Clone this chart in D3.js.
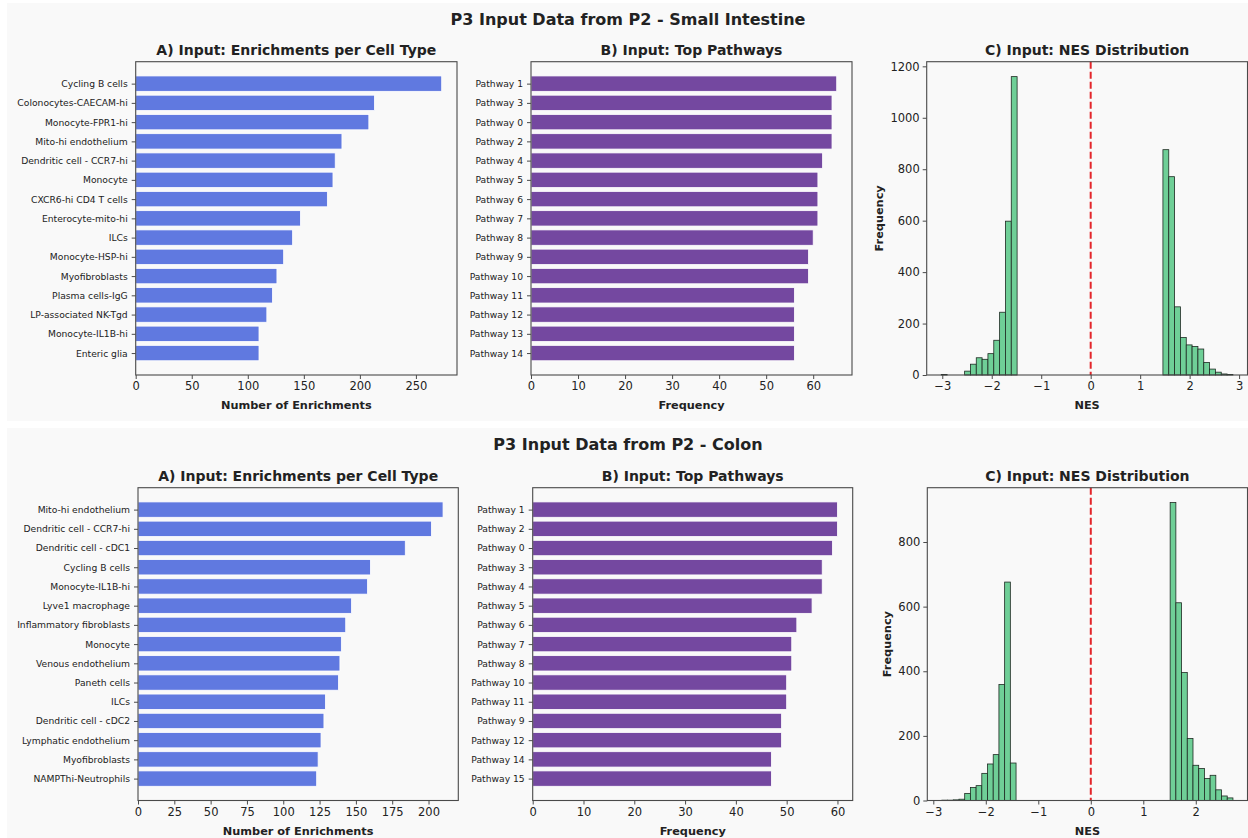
<!DOCTYPE html>
<html><head><meta charset="utf-8">
<script src="https://cdn.jsdelivr.net/npm/d3@7"></script>
<style>body{margin:0;background:#fff;} text{font-family:"DejaVu Sans",sans-serif;fill:#222;}</style>
</head><body><svg id="chart" width="1248" height="838"></svg>
<script>
// ---------- DATA ----------
const siTitle = "P3 Input Data from P2 - Small Intestine";
const coTitle = "P3 Input Data from P2 - Colon";

const siCellTypes = ["Cycling B cells","Colonocytes-CAECAM-hi","Monocyte-FPR1-hi","Mito-hi endothelium","Dendritic cell - CCR7-hi","Monocyte","CXCR6-hi CD4 T cells","Enterocyte-mito-hi","ILCs","Monocyte-HSP-hi","Myofibroblasts","Plasma cells-IgG","LP-associated NK-Tgd","Monocyte-IL1B-hi","Enteric glia"];
const siCellCounts = [273,213,208,184,178,176,171,147,140,132,126,122,117,110,110];
const siCellTicks = [0,50,100,150,200,250];

const siPathways = ["Pathway 1","Pathway 3","Pathway 0","Pathway 2","Pathway 4","Pathway 5","Pathway 6","Pathway 7","Pathway 8","Pathway 9","Pathway 10","Pathway 11","Pathway 12","Pathway 13","Pathway 14"];
const siPathwayFreq = [65,64,64,64,62,61,61,61,60,59,59,56,56,56,56];
const siPathwayTicks = [0,10,20,30,40,50,60];

const siNesMin = -3.02, siNesMax = 2.875;
const siNesCounts = [2,0,0,0,15,42,67,61,83,135,244,598,1160,
  0,0,0,0,0,0,0,0,0,0,0,0,0,0,0,0,0,0,0,0,0,0,0,0,0,
  876,771,265,146,117,111,101,49,23,11,4,2];
const siNesXTicks = [-3,-2,-1,0,1,2,3];
const siNesYTicks = [0,200,400,600,800,1000,1200];

const coCellTypes = ["Mito-hi endothelium","Dendritic cell - CCR7-hi","Dendritic cell - cDC1","Cycling B cells","Monocyte-IL1B-hi","Lyve1 macrophage","Inflammatory fibroblasts","Monocyte","Venous endothelium","Paneth cells","ILCs","Dendritic cell - cDC2","Lymphatic endothelium","Myofibroblasts","NAMPThi-Neutrophils"];
const coCellCounts = [210,202,184,160,158,147,143,140,139,138,129,128,126,124,123];
const coCellTicks = [0,25,50,75,100,125,150,175,200];

const coPathways = ["Pathway 1","Pathway 2","Pathway 0","Pathway 3","Pathway 4","Pathway 5","Pathway 6","Pathway 7","Pathway 8","Pathway 10","Pathway 11","Pathway 9","Pathway 12","Pathway 14","Pathway 15"];
const coPathwayFreq = [60,60,59,57,57,55,52,51,51,50,50,49,49,47,47];
const coPathwayTicks = [0,10,20,30,40,50,60];

const coNesMin = -2.837, coNesMax = 2.708;
const coNesCounts = [1,1,2,4,22,40,46,84,113,142,359,676,116,
  0,0,0,0,0,0,0,0,0,0,0,0,0,0,0,0,0,0,0,0,0,0,0,0,0,0,0,
  922,612,396,192,109,99,68,78,33,14,8];
const coNesXTicks = [-3,-2,-1,0,1,2];
const coNesYTicks = [0,200,400,600,800];

// ---------- STYLE ----------
const panelBg = "#f9f9f9";
const spineColor = "#4a4a4a";
const cellColor = "#6079e0";
const pathColor = "#7448a0";
const histFill = "#6fcf97";
const histEdge = "#1e2a22";
const zeroLine = "#e3262b";
const fmt = v => (v < 0 ? "\u2212" + Math.abs(v) : String(v));

const svg = d3.select("#chart");

function frame(g, x0, x1, y0, y1) {
  g.append("rect").attr("x", x0).attr("y", y0).attr("width", x1 - x0).attr("height", y1 - y0)
    .attr("fill", "none").attr("stroke", spineColor).attr("stroke-width", 1.1);
}

function xAxis(g, scale, ticks, y1, label, labelY) {
  const ax = d3.axisBottom(scale).tickValues(ticks).tickSize(4).tickPadding(3).tickFormat(fmt);
  const a = g.append("g").attr("transform", `translate(0,${y1})`).call(ax);
  a.select(".domain").remove();
  a.selectAll(".tick line").attr("stroke", spineColor);
  a.selectAll(".tick text").attr("font-size", 11.5).attr("fill", "#222").attr("font-family", "DejaVu Sans");
  g.append("text").attr("x", (scale.range()[0] + scale.range()[1]) / 2).attr("y", labelY)
    .attr("text-anchor", "middle").attr("font-size", 11.3).attr("font-weight", "bold").text(label);
}

function title(g, text, cx, y) {
  g.append("text").attr("x", cx).attr("y", y).attr("text-anchor", "middle")
    .attr("font-size", 14).attr("font-weight", "bold").text(text);
}

function barPanel(g, cats, vals, ticks, color, box, t, xLabel) {
  const [x0, x1, y0, y1] = box;
  const n = cats.length;
  const x = d3.scaleLinear().domain([0, d3.max(vals) * 1.05]).range([x0, x1]);
  const pad = 0.05 * (n - 1 + 0.8);
  const y = d3.scaleLinear().domain([-0.4 - pad, n - 1 + 0.4 + pad]).range([y0, y1]);
  g.selectAll(null).data(vals).enter().append("rect")
    .attr("x", x(0)).attr("y", (d, i) => y(i - 0.4))
    .attr("width", d => x(d) - x(0)).attr("height", (d, i) => y(i + 0.4) - y(i - 0.4))
    .attr("fill", color).attr("stroke", "#ffffff").attr("stroke-width", 0.8);
  const ya = d3.axisLeft(y).tickValues(d3.range(n)).tickSize(4).tickPadding(4).tickFormat(i => cats[i]);
  const a = g.append("g").attr("transform", `translate(${x0},0)`).call(ya);
  a.select(".domain").remove();
  a.selectAll(".tick line").attr("stroke", spineColor);
  a.selectAll(".tick text").attr("font-size", 9.2).attr("fill", "#222").attr("font-family", "DejaVu Sans");
  frame(g, x0, x1, y0, y1);
  xAxis(g, x, ticks, y1, xLabel, y1 + 34);
  title(g, t, (x0 + x1) / 2, y0 - 7);
}

function histPanel(g, counts, mn, mx, xt, yt, box, t, ylabX) {
  const [x0, x1, y0, y1] = box;
  const R = mx - mn, bw = R / counts.length;
  const x = d3.scaleLinear().domain([mn - 0.05 * R, mx + 0.05 * R]).range([x0, x1]);
  const y = d3.scaleLinear().domain([0, d3.max(counts) * 1.05]).range([y1, y0]);
  const bins = counts.map((c, k) => ({ a: mn + k * bw, b: mn + (k + 1) * bw, c })).filter(d => d.c > 0);
  g.selectAll(null).data(bins).enter().append("rect")
    .attr("x", d => x(d.a)).attr("y", d => y(d.c))
    .attr("width", d => x(d.b) - x(d.a)).attr("height", d => y(0) - y(d.c))
    .attr("fill", histFill).attr("stroke", histEdge).attr("stroke-width", 0.8);
  g.append("line").attr("x1", x(0)).attr("x2", x(0)).attr("y1", y0).attr("y2", y1)
    .attr("stroke", zeroLine).attr("stroke-width", 2).attr("stroke-dasharray", "7,3");
  const ya = d3.axisLeft(y).tickValues(yt).tickSize(4).tickPadding(3).tickFormat(d => String(d));
  const a = g.append("g").attr("transform", `translate(${x0},0)`).call(ya);
  a.select(".domain").remove();
  a.selectAll(".tick line").attr("stroke", spineColor);
  a.selectAll(".tick text").attr("font-size", 11.5).attr("fill", "#222").attr("font-family", "DejaVu Sans");
  g.append("text").attr("transform", `translate(${ylabX},${(y0 + y1) / 2}) rotate(-90)`)
    .attr("text-anchor", "middle").attr("dy", "0.35em").attr("font-size", 11.3).attr("font-weight", "bold").text("Frequency");
  frame(g, x0, x1, y0, y1);
  xAxis(g, x, xt, y1, "NES", y1 + 34);
  title(g, t, (x0 + x1) / 2, y0 - 7);
}

// panel backgrounds
svg.append("rect").attr("x", 7).attr("y", 3).attr("width", 1241).attr("height", 418).attr("fill", panelBg);
svg.append("rect").attr("x", 7).attr("y", 428).attr("width", 1241).attr("height", 410).attr("fill", panelBg);

const gTop = svg.append("g"), gBot = svg.append("g");
gTop.append("text").attr("x", 628).attr("y", 25).attr("text-anchor", "middle").attr("font-size", 16).attr("font-weight", "bold").text(siTitle);
gBot.append("text").attr("x", 628).attr("y", 450).attr("text-anchor", "middle").attr("font-size", 16).attr("font-weight", "bold").text(coTitle);

barPanel(gTop, siCellTypes, siCellCounts, siCellTicks, cellColor, [135.7, 457, 61.7, 375], "A) Input: Enrichments per Cell Type", "Number of Enrichments");
barPanel(gTop, siPathways, siPathwayFreq, siPathwayTicks, pathColor, [531, 852, 61.7, 375], "B) Input: Top Pathways", "Frequency");
histPanel(gTop, siNesCounts, siNesMin, siNesMax, siNesXTicks, siNesYTicks, [926.7, 1247.5, 61.7, 375], "C) Input: NES Distribution", 879);

barPanel(gBot, coCellTypes, coCellCounts, coCellTicks, cellColor, [138, 458.3, 487.7, 800.5], "A) Input: Enrichments per Cell Type", "Number of Enrichments");
barPanel(gBot, coPathways, coPathwayFreq, coPathwayTicks, pathColor, [532.7, 852.7, 487.7, 800.5], "B) Input: Top Pathways", "Frequency");
histPanel(gBot, coNesCounts, coNesMin, coNesMax, coNesXTicks, coNesYTicks, [927.3, 1247.5, 487.7, 800.5], "C) Input: NES Distribution", 887);
</script></body></html>
